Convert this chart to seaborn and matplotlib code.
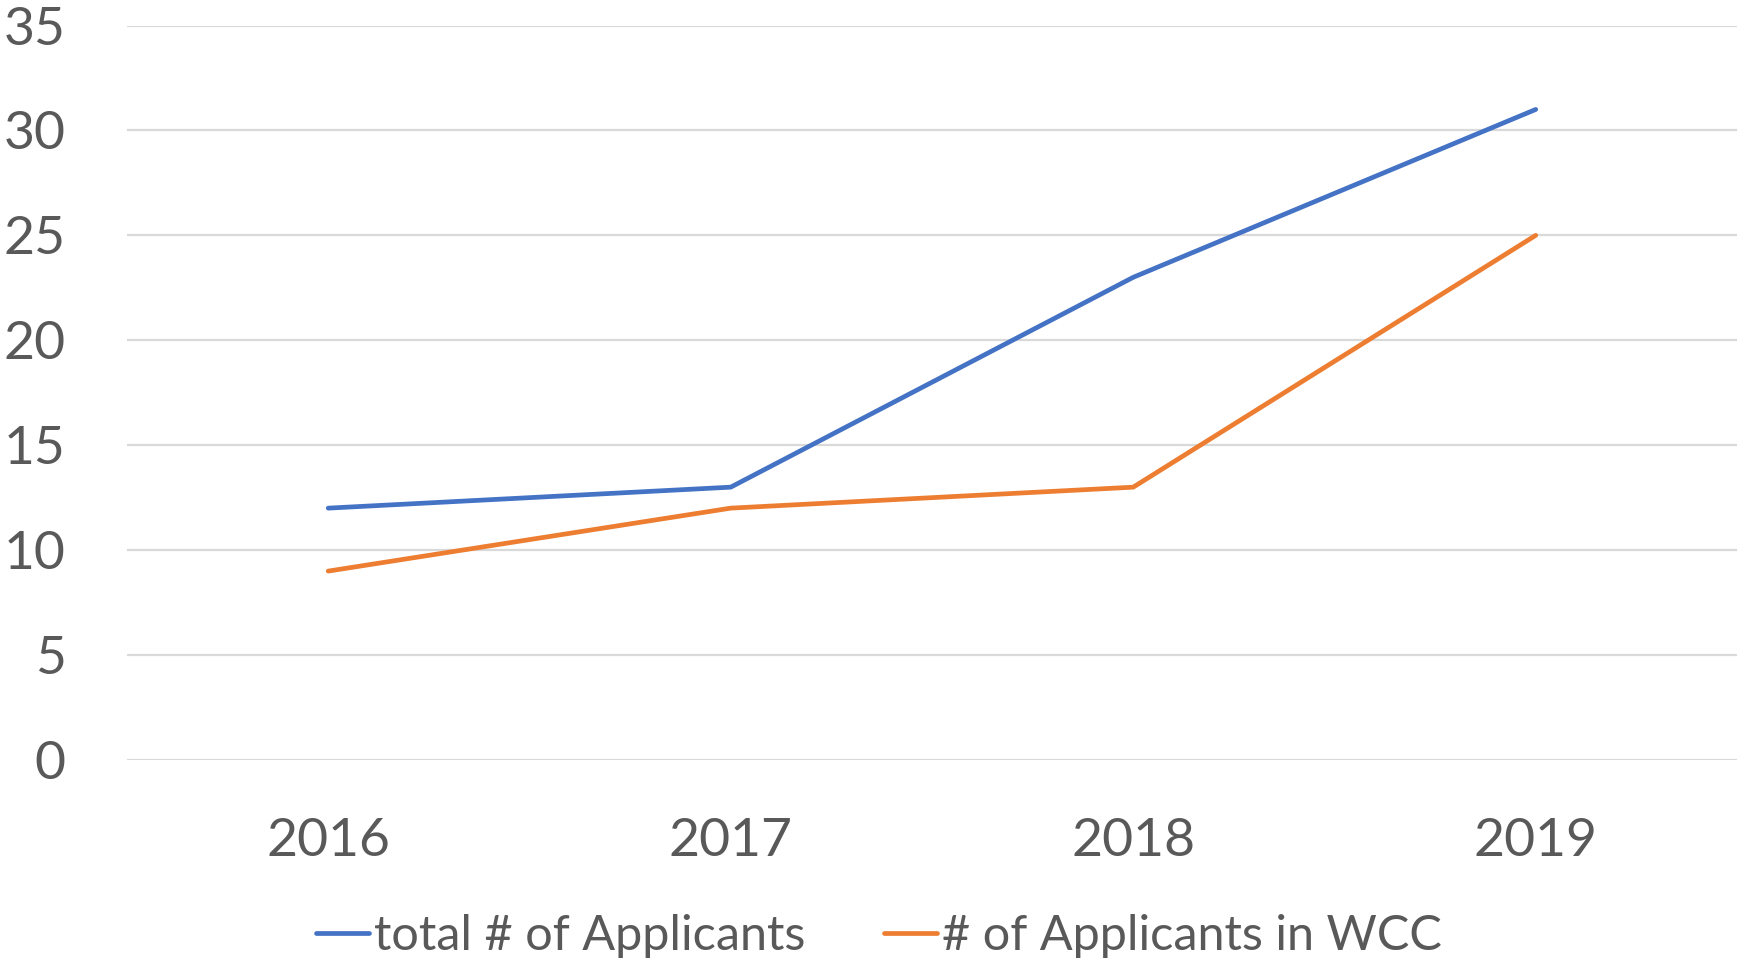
import pandas as pd
import matplotlib.pyplot as plt
import seaborn as sns

# data
years = ["2016", "2017", "2018", "2019"]
total_applicants = [12, 13, 23, 31]
wcc_applicants = [9, 12, 13, 25]
series_names = ["total # of Applicants", "# of Applicants in WCC"]

df = pd.DataFrame({
    "year": years * 2,
    "value": total_applicants + wcc_applicants,
    "series": [series_names[0]] * 4 + [series_names[1]] * 4,
})

sns.set_style("white")
plt.rcParams["font.family"] = ["Lato", "DejaVu Sans"]
text_color = "#595959"
colors = ["#4472C4", "#ED7D31"]

fig = plt.figure(figsize=(17.37, 9.66), dpi=100)
ax = fig.add_axes([0.0731, 0.2133, 0.9269, 0.7603])

sns.lineplot(data=df, x="year", y="value", hue="series", sort=False,
             palette=colors, linewidth=3.4, ax=ax, legend=False)

ax.set_xlim(-0.5, 3.5)
ax.set_ylim(0, 35)
ax.set_yticks(range(0, 36, 5))
ax.grid(axis="y", color="#D9D9D9", linewidth=1.6)
ax.set_axisbelow(True)
for s in ax.spines.values():
    s.set_visible(False)
ax.set_xlabel("")
ax.set_ylabel("")
ax.tick_params(axis="y", length=0, pad=44, labelsize=38.5, labelcolor=text_color)
ax.tick_params(axis="x", length=0, pad=42, labelsize=38.5, labelcolor=text_color)

handles = [plt.Line2D([], [], color=c, linewidth=3.4) for c in colors]
fig.legend(handles, series_names, loc="center", bbox_to_anchor=(0.506, 0.031),
           ncol=2, frameon=False, fontsize=35, handlelength=1.09,
           handletextpad=0.12, columnspacing=1.6, labelcolor=text_color)

fig.savefig("out.png", dpi=100)
